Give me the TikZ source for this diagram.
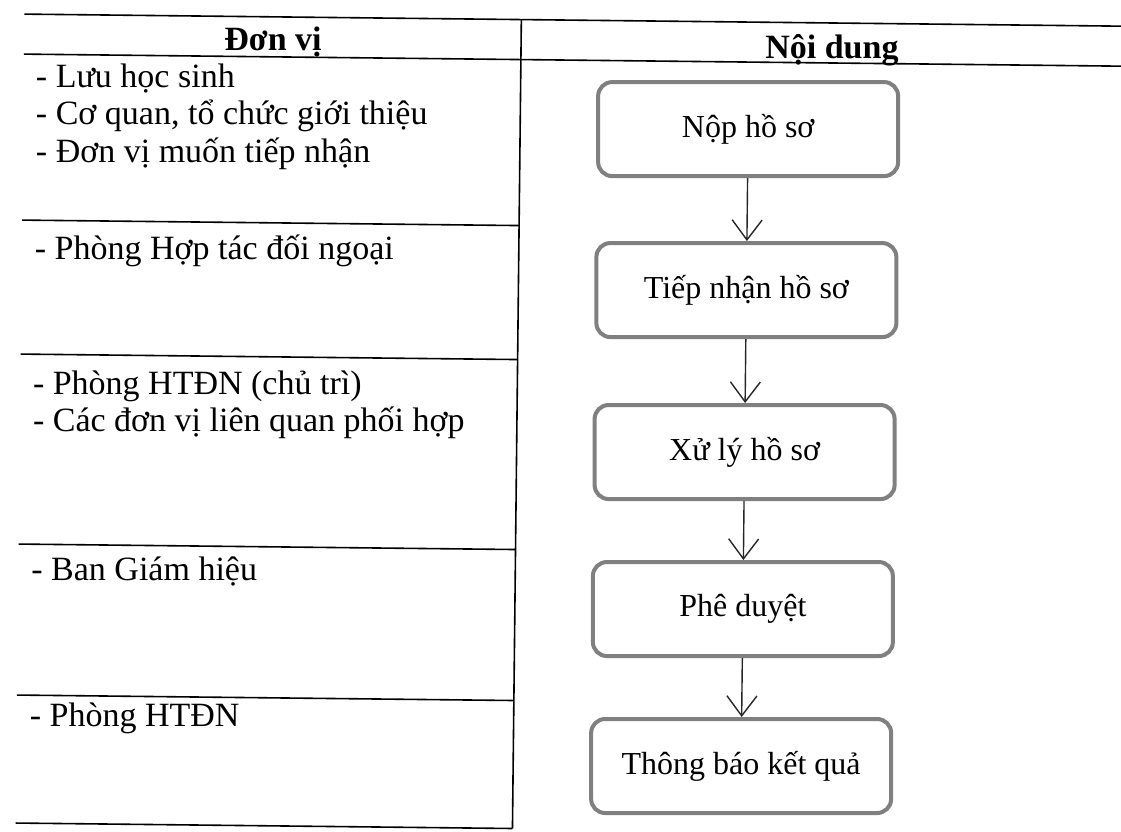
\documentclass[tikz,border=0pt]{standalone}
\usepackage{fontspec}
\setmainfont{Liberation Serif}
\usetikzlibrary{positioning,arrows.meta}

\begin{document}
\begin{tikzpicture}[x=1pt,y=-1pt,font=\fontsize{34}{37.5}\selectfont,
  rule/.style={line width=1.6pt,black},
  hd/.style={font=\fontsize{34}{37.5}\selectfont\bfseries,anchor=base,inner sep=0pt},
  cell/.style={anchor=base west,align=left,inner sep=0pt},
  stepbox/.style={rectangle,rounded corners=14pt,draw=black!50,line width=4pt,minimum width=300pt,minimum height=94pt,align=center,font=\fontsize{32}{36}\selectfont},
  ar/.style={-{Straight Barb[length=20pt,width=30pt]},line width=1.4pt,black!85}]
\useasboundingbox (0,0) rectangle (1121,831);
\begin{scope}[rotate around={-0.63:(560,415)}]
\draw[rule](20,20)--(1135,20);
\draw[rule](20,60)--(1135,60);
\draw[rule](517,20)--(517,829);
\foreach \yy in {226,360,550,701,829}
  \draw[rule](20,\yy)--(517,\yy);
\node[hd](h1) at (269,54){Đơn vị};
\node[hd](h2) at (828,56){Nội dung};
\node[cell](c1) at (33,168){- Lưu học sinh\\- Cơ quan, tổ chức giới thiệu\\- Đơn vị muốn tiếp nhận};
\node[cell](c2) at (33,265){- Phòng Hợp tác đối ngoại};
\node[cell](c3) at (33,437.5){- Phòng HTĐN (chủ trì)\\- Các đơn vị liên quan phối hợp};
\node[cell](c4) at (33,586){- Ban Giám hiệu};
\node[cell](c5) at (33,732){- Phòng HTĐN};
\node[stepbox](s1) at (745,127){Nộp hồ sơ};
\node[stepbox](s2) at (745,288){Tiếp nhận hồ sơ};
\node[stepbox](s3) at (745,450){Xử lý hồ sơ};
\node[stepbox](s4) at (745,607){Phê duyệt};
\node[stepbox](s5) at (745,764){Thông báo kết quả};
\draw[ar](s1)--(s2);\draw[ar](s2)--(s3);
\draw[ar](s3)--(s4);\draw[ar](s4)--(s5);
\end{scope}
\end{tikzpicture}
\end{document}
